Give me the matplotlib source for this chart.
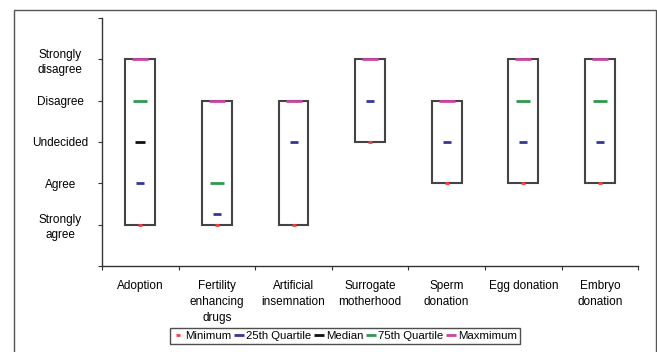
import numpy as np
import matplotlib.pyplot as plt
from matplotlib.lines import Line2D
from matplotlib.patches import Rectangle

plt.rcParams['font.family'] = ['Liberation Sans', 'DejaVu Sans']
plt.rcParams['font.size'] = 8.5

categories = ['Adoption', 'Fertility\nenhancing\ndrugs', 'Artificial\ninsemnation',
              'Surrogate\nmotherhood', 'Sperm\ndonation', 'Egg donation', 'Embryo\ndonation']
y_labels = ['', 'Strongly\nagree', 'Agree', 'Undecided', 'Disagree', 'Strongly\ndisagree', '']

# 1 = strongly agree ... 5 = strongly disagree (nan = not visible in the figure)
minimum = [1, 1, 1, 3, 2, 2, 2]
q25 = [2, 1.25, 3, 4, 3, 3, 3]
median = [3, np.nan, np.nan, np.nan, np.nan, np.nan, np.nan]
q75 = [4, 2, np.nan, np.nan, np.nan, 4, 4]
maximum = [5, 4, 4, 5, 4, 5, 5]

series = [
    ('Minimum', minimum, '#ff3b3b', 3),
    ('25th Quartile', q25, '#35359a', 6),
    ('Median', median, '#111111', 7.5),
    ('75th Quartile', q75, '#2e9a4e', 10),
    ('Maxmimum', maximum, '#cc44a6', 11.5),
]

fig = plt.figure(figsize=(6.57, 3.52), dpi=100)
ax = fig.add_axes([0.1553, 0.2443, 0.8160, 0.7046])

x = np.arange(len(categories))
ax.bar(x, np.array(maximum) - np.array(minimum), bottom=minimum, width=0.39,
       fill=False, edgecolor='#444444', linewidth=1.5, zorder=2)

handles = []
for name, vals, color, ms in series:
    ax.plot(x, vals, linestyle='none', marker='_', markersize=ms,
            markeredgewidth=2, color=color, zorder=3)
    handles.append(Line2D([], [], linestyle='none', marker='_',
                          markersize=3 if name == 'Minimum' else 7,
                          markeredgewidth=2, color=color, label=name))

ax.set_xlim(-0.5, len(categories) - 0.5)
ax.set_ylim(0, 6)
ax.set_yticks(range(7))
ax.set_yticklabels(y_labels, ha='center', linespacing=1.3)
ax.tick_params(axis='y', direction='out', length=3, pad=27, color='#333333')

ax.set_xticks(np.arange(len(categories) + 1) - 0.5)
ax.set_xticklabels([])
ax.set_xticks(x, minor=True)
ax.set_xticklabels(categories, minor=True, linespacing=1.45, va='top')
ax.tick_params(axis='x', which='major', direction='out', length=3, color='#333333')
ax.tick_params(axis='x', which='minor', length=0, pad=10)

for s in ['top', 'right']:
    ax.spines[s].set_visible(False)
for s in ['left', 'bottom']:
    ax.spines[s].set_color('#333333')
    ax.spines[s].set_linewidth(1)

leg = fig.legend(handles=handles, loc='center', bbox_to_anchor=(0.525, 0.045),
                 ncol=5, frameon=True, fancybox=False, handlelength=0.9,
                 handletextpad=0.15, columnspacing=0.25, borderpad=0.25,
                 borderaxespad=0, fontsize=8.2)
leg.get_frame().set_edgecolor('#222222')
leg.get_frame().set_linewidth(1)

fig.patches.append(Rectangle((14 / 657, -0.1), (656 - 14) / 657, 1.1 - 10 / 352,
                             transform=fig.transFigure, fill=False,
                             edgecolor='#555555', linewidth=1))

fig.savefig('out.png', dpi=100)
